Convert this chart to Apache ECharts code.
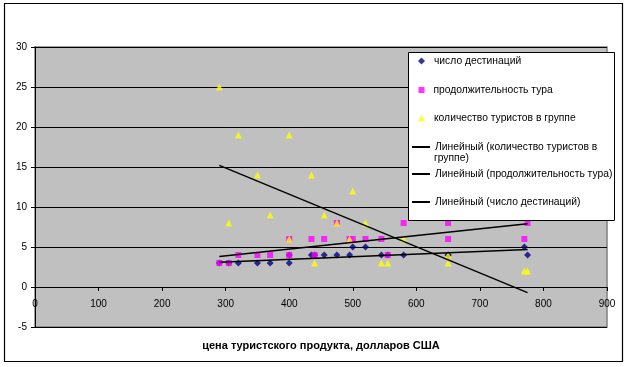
<!DOCTYPE html>
<html><head><meta charset="utf-8">
<script src="https://cdn.jsdelivr.net/npm/echarts@6/dist/echarts.min.js"></script>
<style>html,body{margin:0;padding:0;background:#fff}#c{width:629px;height:367px}</style>
</head><body><div id="c"></div>
<script>
const price        = [290, 305, 320, 350, 370, 400, 400, 435, 440, 455, 475, 495, 500, 520, 545, 555, 580, 650, 650, 770, 775];
const destinations = [3, 3, 3, 3, 3, 3, 4, 4, 4, 4, 4, 4, 5, 5, 4, 4, 4, 4, 4, 5, 4];
const duration     = [3, 3, 4, 4, 4, 4, 6, 6, 4, 6, 8, 6, 6, 6, 6, 4, 8, 8, 6, 6, 8];
const tourists     = [25, 8, 19, 14, 9, 19, 6, 14, 3, 9, 8, 6, 12, 8, 3, 3, 6, 4, 3, 2, 2];
const trendX            = [290, 775];
const trendTourists     = [15.2, -0.7];
const trendDuration     = [3.8, 7.9];
const trendDestinations = [3.1, 4.7];
const xTicks = {min: 0, max: 900, interval: 100};
const yTicks = {min: -5, max: 30, interval: 5};
const names = ['число дестинаций', 'продолжительность тура', 'количество туристов в группе',
  'Линейный (количество туристов в группе)', 'Линейный (продолжительность тура)', 'Линейный (число дестинаций)'];
const legend4Lines = ['Линейный (количество туристов в', 'группе)'];
const xTitle = 'цена туристского продукта, долларов США';

const pts = (ys) => price.map((x, i) => [x, ys[i]]);
const tr = (ys) => trendX.map((x, i) => [x, ys[i]]);
const FONT = 'Liberation Sans';
const txt = {fontFamily: FONT, fontSize: 10.3, color: '#000', lineHeight: 11};

function leg(name, top, icon, left, w, h, extra) {
  return Object.assign({
    data: [name], orient: 'vertical', left: left, top: top, padding: 0,
    icon: icon, itemWidth: w, itemHeight: h, selectedMode: false, z: 20,
    textStyle: Object.assign({}, txt)
  }, extra || {});
}
const padTxt = Object.assign({}, txt, {padding: [0, 0, 0, 4]});

const chart = echarts.init(document.getElementById('c'), null, {renderer: 'canvas'});
chart.setOption({
  animation: false,
  backgroundColor: '#fff',
  textStyle: {fontFamily: FONT},
  grid: {left: 35, right: 22, top: 47, bottom: 40, show: true, outerBoundsMode: 'none', containLabel: false,
         backgroundColor: '#C0C0C0', borderColor: '#808080', borderWidth: 1.5},
  xAxis: {
    type: 'value', min: xTicks.min, max: xTicks.max, interval: xTicks.interval,
    name: xTitle, nameLocation: 'middle', nameGap: 13,
    nameTextStyle: {fontFamily: FONT, fontSize: 11, fontWeight: 'bold', color: '#000'},
    axisLine: {show: true, onZero: true, lineStyle: {color: '#000', width: 1}},
    axisTick: {show: true, length: 4, lineStyle: {color: '#000'}},
    axisLabel: {fontFamily: FONT, fontSize: 10, color: '#000', margin: -28},
    splitLine: {show: false}
  },
  yAxis: {
    type: 'value', min: yTicks.min, max: yTicks.max, interval: yTicks.interval,
    axisLine: {show: true, onZero: false, lineStyle: {color: '#000', width: 1}},
    axisTick: {show: true, length: 4, lineStyle: {color: '#000'}},
    axisLabel: {fontFamily: FONT, fontSize: 10, color: '#000', margin: 8},
    splitLine: {show: true, lineStyle: {color: '#000', width: 1}}
  },
  graphic: [
    {type: 'rect', z: 0, silent: true, shape: {x: 4.5, y: 3.5, width: 618, height: 358}, style: {fill: null, stroke: '#000', lineWidth: 1.2}},
    {type: 'rect', z: 15, silent: true, shape: {x: 408.5, y: 52.5, width: 206, height: 168}, style: {fill: '#fff', stroke: '#000', lineWidth: 1}},
    {type: 'text', z: 21, silent: true, left: 434, top: 153, style: {text: legend4Lines[1], font: '10.3px "Liberation Sans"', fill: '#000'}}
  ],
  legend: [
    leg(names[0], 55.5, 'diamond', 418, 7, 7, {textStyle: padTxt}),
    leg(names[1], 84.5, 'rect', 418.5, 6, 6, {textStyle: padTxt}),
    leg(names[2], 112.5, 'triangle', 418, 7, 7, {textStyle: padTxt}),
    leg(names[3], 141.5, 'rect', 412, 18, 2, {formatter: () => legend4Lines[0]}),
    leg(names[4], 168.5, 'rect', 412, 18, 2),
    leg(names[5], 196.5, 'rect', 412, 18, 2)
  ],
  series: [
    {name: names[0], type: 'scatter', data: pts(destinations), symbol: 'diamond', symbolSize: 7, itemStyle: {color: '#000080'}, z: 3},
    {name: names[1], type: 'scatter', data: pts(duration), symbol: 'rect', symbolSize: 6, itemStyle: {color: '#FF00FF'}, z: 3},
    {name: names[2], type: 'scatter', data: pts(tourists), symbol: 'triangle', symbolSize: 7, itemStyle: {color: '#FFFF00'}, z: 4},
    {name: names[3], type: 'line', data: tr(trendTourists), showSymbol: false, symbol: 'none', lineStyle: {color: '#000', width: 1.5}, itemStyle: {color: '#000'}, z: 5},
    {name: names[4], type: 'line', data: tr(trendDuration), showSymbol: false, symbol: 'none', lineStyle: {color: '#000', width: 1.5}, itemStyle: {color: '#000'}, z: 5},
    {name: names[5], type: 'line', data: tr(trendDestinations), showSymbol: false, symbol: 'none', lineStyle: {color: '#000', width: 1.5}, itemStyle: {color: '#000'}, z: 5}
  ]
});
</script></body></html>
